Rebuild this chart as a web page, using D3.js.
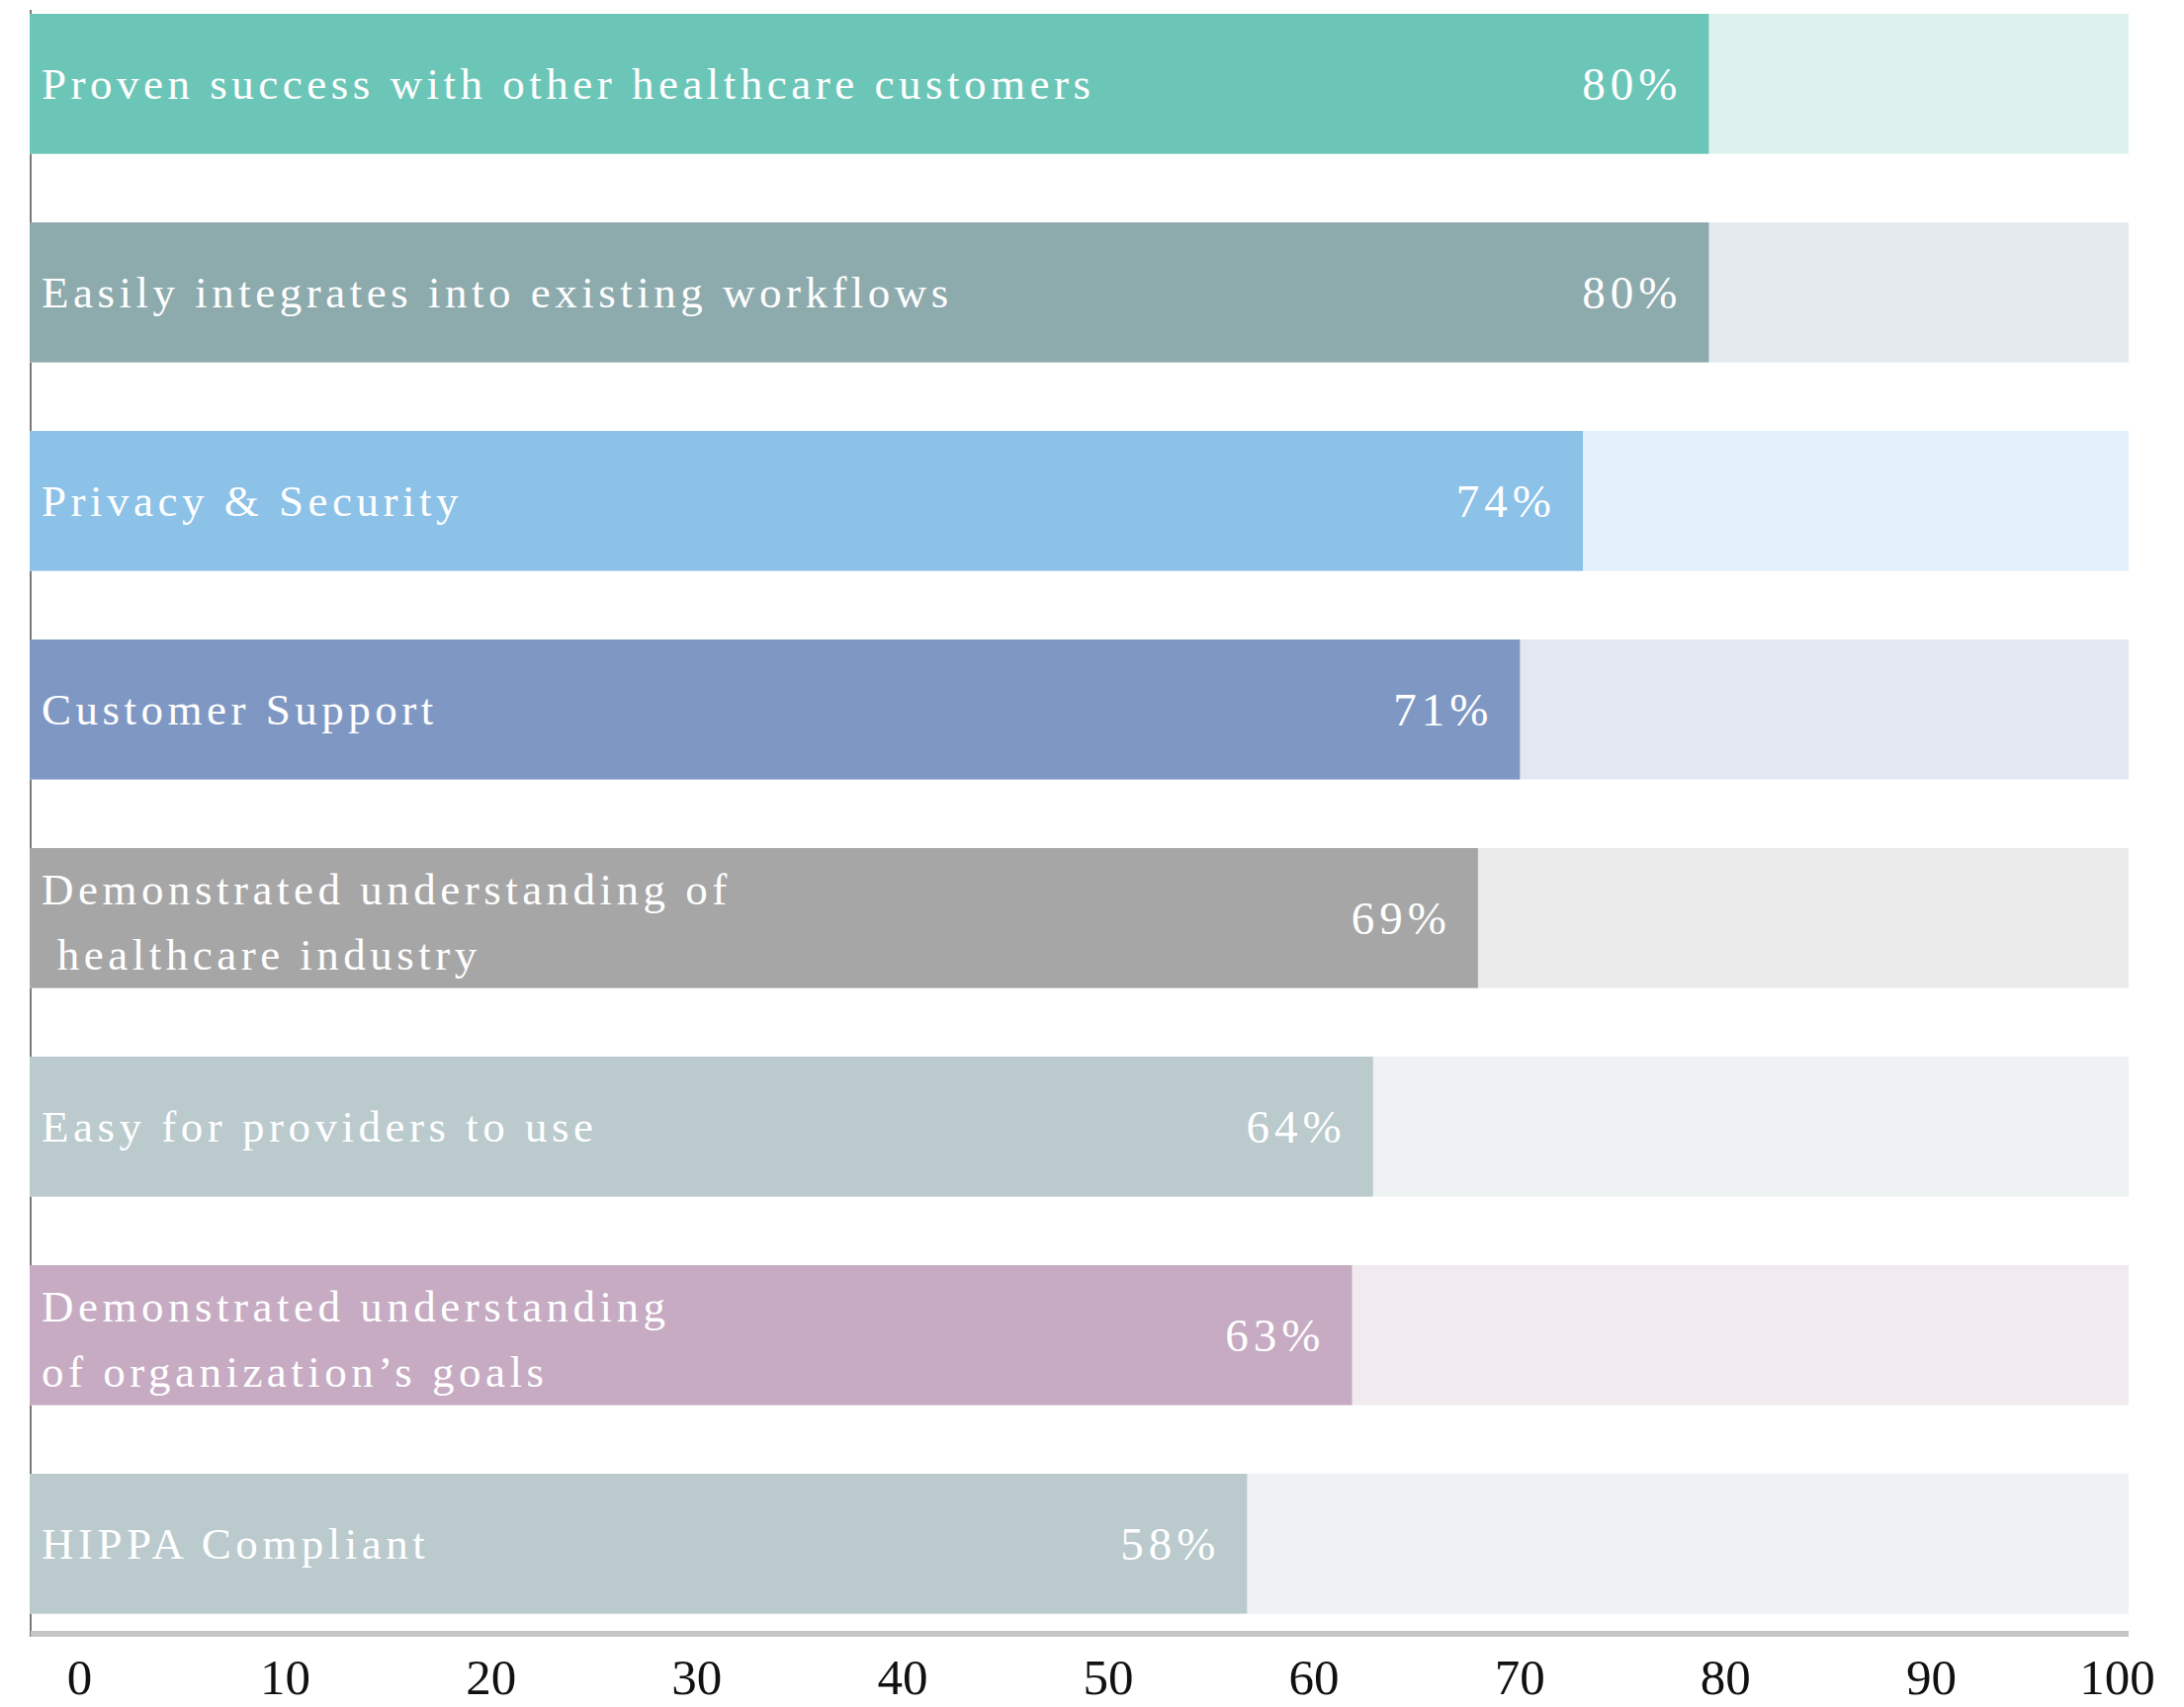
<!DOCTYPE html>
<html>
<head>
<meta charset="utf-8">
<script src="https://cdn.jsdelivr.net/npm/d3@7"></script>
<style>
  html, body { margin: 0; padding: 0; background: #ffffff; }
  svg { display: block; }
  text { font-family: "Liberation Serif", "Times New Roman", serif; }
</style>
</head>
<body>
<svg id="chart" width="2209" height="1727"></svg>
<script>
// ---- data ----
const categories = [
  "Proven success with other healthcare customers",
  "Easily integrates into existing workflows",
  "Privacy & Security",
  "Customer Support",
  "Demonstrated understanding of\n healthcare industry",
  "Easy for providers to use",
  "Demonstrated understanding\nof organization\u2019s goals",
  "HIPPA Compliant"
];
const values = [80, 80, 74, 71, 69, 64, 63, 58];
const barColors = ["#6cc6b8", "#8daaad", "#8cc1e8", "#7f98c3", "#a6a6a6", "#bacacd", "#c6abc3", "#bacacd"];
const trackColors = ["#ddf1ed", "#e4eaed", "#e3f0fa", "#e2e7f2", "#eaeaea", "#eef2f3", "#f1eaef", "#eef2f3"];
const tickValues = [0, 10, 20, 30, 40, 50, 60, 70, 80, 90, 100];
const maxValue = 100;

// ---- layout ----
const svg = d3.select("#chart");
const x = d3.scaleLinear().domain([0, maxValue]).range([30, 2153]);
const y = d3.scaleBand().domain(categories)
  .range([14, 14 + 211 * (categories.length - 0.329)])
  .paddingInner(0.329).paddingOuter(0);
const tickScale = d3.scaleLinear().domain([0, maxValue]).range([80, 2161]);

// left axis line (behind bars)
svg.append("line")
  .attr("x1", 31).attr("x2", 31)
  .attr("y1", 10).attr("y2", 1656)
  .attr("stroke", "#7a7a7a").attr("stroke-width", 2);

const rows = svg.append("g").selectAll("g.row")
  .data(categories.map((c, i) => ({ c, v: values[i], i })))
  .join("g").attr("class", "row");

// track (100%)
rows.append("rect")
  .attr("x", x(0))
  .attr("y", d => y(d.c))
  .attr("width", x(maxValue) - x(0))
  .attr("height", y.bandwidth())
  .attr("fill", d => trackColors[d.i]);

// value bar
rows.append("rect")
  .attr("x", x(0))
  .attr("y", d => y(d.c))
  .attr("width", d => x(d.v) - x(0))
  .attr("height", y.bandwidth())
  .attr("fill", d => barColors[d.i]);

// category labels
rows.each(function(d) {
  const lines = d.c.split("\n");
  const cy = y(d.c) + y.bandwidth() / 2;
  const t = d3.select(this).append("text")
    .attr("fill", "#ffffff")
    .attr("font-size", 45)
    .attr("letter-spacing", "4.5px")
    .attr("xml:space", "preserve")
    .style("white-space", "pre");
  if (lines.length === 1) {
    t.append("tspan").attr("x", 42).attr("y", cy + 15).text(lines[0]);
  } else {
    lines.forEach((ln, k) => {
      t.append("tspan").attr("x", 42).attr("y", cy - 14 + k * 66).text(ln);
    });
  }
});

// value labels
rows.append("text")
  .attr("x", d => x(d.v) - 27)
  .attr("y", d => y(d.c) + y.bandwidth() / 2 + 16)
  .attr("text-anchor", "end")
  .attr("fill", "#ffffff")
  .attr("font-size", 47)
  .attr("letter-spacing", "5px")
  .text(d => d.v + "%");

// bottom gray baseline
svg.append("line")
  .attr("x1", 31).attr("x2", x(maxValue))
  .attr("y1", 1653).attr("y2", 1653)
  .attr("stroke", "#c6c6c6").attr("stroke-width", 6);

// tick labels
const axis = d3.axisBottom(tickScale).tickValues(tickValues).tickSize(0).tickFormat(d3.format("d"));
const ag = svg.append("g").attr("transform", "translate(0,1714)").call(axis);
ag.select(".domain").remove();
ag.selectAll("text")
  .attr("y", 0).attr("dy", 0)
  .attr("font-size", 51)
  .attr("font-family", "Liberation Serif, Times New Roman, serif")
  .attr("fill", "#111111")
  .attr("dx", d => d === maxValue ? -20 : 0);
</script>
</body>
</html>
